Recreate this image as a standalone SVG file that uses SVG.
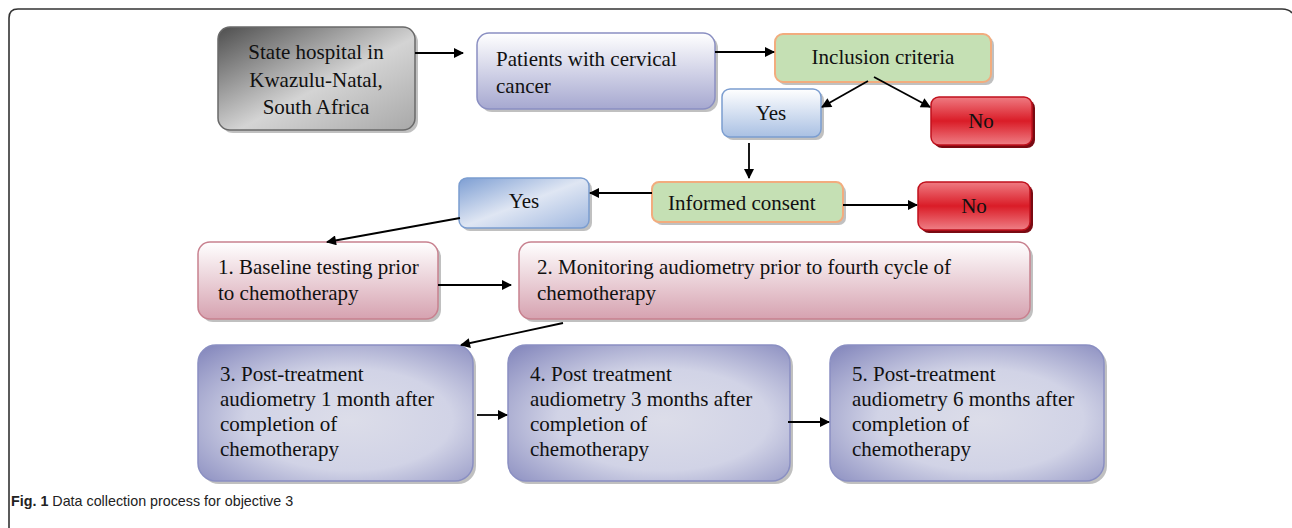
<svg xmlns="http://www.w3.org/2000/svg" width="1292" height="528" viewBox="0 0 1292 528">
<style>
.t{font-family:"Liberation Serif","Times New Roman",serif;font-size:21px;fill:#111}
.c{text-anchor:middle}
.sh{fill:#8c8c8c;opacity:.55}
.ar{stroke:#000;stroke-width:1.8;fill:none;marker-end:url(#ah)}
.cap{font-family:"Liberation Sans",Arial,sans-serif;font-size:14.3px;fill:#222}
</style>
<defs>
<marker id="ah" viewBox="0 0 10 10" refX="9" refY="5" markerWidth="11" markerHeight="10" orient="auto" markerUnits="userSpaceOnUse">
<path d="M0,0 L10,5 L0,10 z" fill="#000"/>
</marker>
<linearGradient id="gGray" x1="0" y1="0" x2="1" y2="1">
<stop offset="0" stop-color="#4e4e4e"/>
<stop offset="0.55" stop-color="#d4d4d4"/>
<stop offset="1" stop-color="#a8a8a8"/>
</linearGradient>
<linearGradient id="gLav" x1="0" y1="0" x2="0" y2="1">
<stop offset="0" stop-color="#ffffff"/>
<stop offset="1" stop-color="#a6a8d0"/>
</linearGradient>
<linearGradient id="gBlue" x1="0" y1="0" x2="0" y2="1">
<stop offset="0" stop-color="#ffffff"/>
<stop offset="1" stop-color="#a9c0e3"/>
</linearGradient>
<linearGradient id="gBlue2" x1="0" y1="0" x2="1" y2="1">
<stop offset="0" stop-color="#7d9ed3"/>
<stop offset="0.5" stop-color="#dfe6f3"/>
<stop offset="1" stop-color="#9fb7df"/>
</linearGradient>
<linearGradient id="gRed" x1="0" y1="0" x2="0" y2="1">
<stop offset="0" stop-color="#ef7b82"/>
<stop offset="0.5" stop-color="#da1c27"/>
<stop offset="1" stop-color="#ef7f86"/>
</linearGradient>
<linearGradient id="gPink" x1="0" y1="0" x2="0" y2="1">
<stop offset="0" stop-color="#ffffff"/>
<stop offset="1" stop-color="#d6a2b0"/>
</linearGradient>
<radialGradient id="gPurp" cx="0.55" cy="0.55" r="0.75">
<stop offset="0" stop-color="#dcdde9"/>
<stop offset="0.5" stop-color="#d1d3e6"/>
<stop offset="1" stop-color="#8588bd"/>
</radialGradient>
</defs>
<rect width="1292" height="528" fill="#fff"/>
<path d="M9,528 V18 Q9,9 18,9 H1282 Q1289,9 1292,13" fill="none" stroke="#333" stroke-width="1.6"/>

<g id="n-hospital">
<rect class="sh" x="221" y="30" width="197" height="103" rx="12"/>
<rect x="218" y="27" width="197" height="103" rx="12" fill="url(#gGray)" stroke="#6a6a6a" stroke-width="1.5"/>
<text class="t c" x="316" y="59">State hospital in</text>
<text class="t c" x="316" y="87">Kwazulu-Natal,</text>
<text class="t c" x="316" y="114">South Africa</text>
</g>
<g id="n-patients">
<rect class="sh" x="480" y="36" width="238" height="76" rx="12"/>
<rect x="477" y="33" width="238" height="76" rx="12" fill="url(#gLav)" stroke="#8a8fc2" stroke-width="1.5"/>
<text class="t" x="496" y="66">Patients with cervical</text>
<text class="t" x="496" y="93">cancer</text>
</g>
<g id="n-inclusion">
<rect class="sh" x="778" y="37" width="216" height="48" rx="8"/>
<rect x="775" y="34" width="216" height="48" rx="8" fill="#c5e0b4" stroke="#f2ac7e" stroke-width="2"/>
<text class="t c" x="883" y="64">Inclusion criteria</text>
</g>
<g id="n-yes1">
<rect class="sh" x="725" y="92" width="99" height="48" rx="8"/>
<rect x="722" y="89" width="99" height="48" rx="8" fill="url(#gBlue)" stroke="#7b9dd0" stroke-width="1.5"/>
<text class="t c" x="771" y="120">Yes</text>
</g>
<g id="n-no1">
<rect x="934" y="100" width="101" height="48" rx="8" fill="#7a0a12"/>
<rect x="931" y="97" width="101" height="48" rx="8" fill="url(#gRed)" stroke="#c0101c" stroke-width="1.5"/>
<text class="t c" x="981" y="128">No</text>
</g>
<g id="n-consent">
<rect class="sh" x="655" y="185" width="191" height="40" rx="7"/>
<rect x="652" y="182" width="191" height="40" rx="7" fill="#c5e0b4" stroke="#f2ac7e" stroke-width="2"/>
<text class="t" x="668" y="210">Informed consent</text>
</g>
<g id="n-yes2">
<rect class="sh" x="462" y="181" width="130" height="50" rx="8"/>
<rect x="459" y="178" width="130" height="50" rx="8" fill="url(#gBlue2)" stroke="#7b9dd0" stroke-width="1.5"/>
<text class="t c" x="524" y="208">Yes</text>
</g>
<g id="n-no2">
<rect x="921" y="185" width="112" height="48" rx="8" fill="#7a0a12"/>
<rect x="918" y="182" width="112" height="48" rx="8" fill="url(#gRed)" stroke="#c0101c" stroke-width="1.5"/>
<text class="t c" x="974" y="213">No</text>
</g>
<g id="n-step1">
<rect class="sh" x="201" y="245" width="240" height="77" rx="12"/>
<rect x="198" y="242" width="240" height="77" rx="12" fill="url(#gPink)" stroke="#c8818f" stroke-width="1.5"/>
<text class="t" x="218" y="274">1. Baseline testing prior</text>
<text class="t" x="218" y="300">to chemotherapy</text>
</g>
<g id="n-step2">
<rect class="sh" x="522" y="245" width="511" height="77" rx="12"/>
<rect x="519" y="242" width="511" height="77" rx="12" fill="url(#gPink)" stroke="#c8818f" stroke-width="1.5"/>
<text class="t" x="537" y="274">2. Monitoring audiometry prior to fourth cycle of</text>
<text class="t" x="537" y="300">chemotherapy</text>
</g>
<g id="n-step3">
<rect class="sh" x="201" y="348" width="275" height="136" rx="18"/>
<rect x="198" y="345" width="275" height="136" rx="18" fill="url(#gPurp)" stroke="#8a8fc2" stroke-width="1.5"/>
<text class="t" x="220" y="381">3. Post-treatment</text>
<text class="t" x="220" y="406">audiometry 1 month after</text>
<text class="t" x="220" y="431">completion of</text>
<text class="t" x="220" y="456">chemotherapy</text>
</g>
<g id="n-step4">
<rect class="sh" x="511" y="348" width="282" height="136" rx="18"/>
<rect x="508" y="345" width="282" height="136" rx="18" fill="url(#gPurp)" stroke="#8a8fc2" stroke-width="1.5"/>
<text class="t" x="530" y="381">4. Post treatment</text>
<text class="t" x="530" y="406">audiometry 3 months after</text>
<text class="t" x="530" y="431">completion of</text>
<text class="t" x="530" y="456">chemotherapy</text>
</g>
<g id="n-step5">
<rect class="sh" x="833" y="348" width="274" height="136" rx="18"/>
<rect x="830" y="345" width="274" height="136" rx="18" fill="url(#gPurp)" stroke="#8a8fc2" stroke-width="1.5"/>
<text class="t" x="852" y="381">5. Post-treatment</text>
<text class="t" x="852" y="406">audiometry 6 months after</text>
<text class="t" x="852" y="431">completion of</text>
<text class="t" x="852" y="456">chemotherapy</text>
</g>

<g id="connectors">
<line class="ar" x1="415" y1="53" x2="463" y2="53"/>
<line class="ar" x1="715" y1="52" x2="774" y2="52"/>
<line class="ar" x1="868" y1="81" x2="822" y2="107"/>
<line class="ar" x1="874" y1="77" x2="930" y2="107"/>
<line class="ar" x1="749" y1="143" x2="749" y2="178"/>
<line class="ar" x1="652" y1="193" x2="590" y2="193"/>
<line class="ar" x1="843" y1="205" x2="917" y2="205"/>
<line class="ar" x1="460" y1="218" x2="327" y2="242"/>
<line class="ar" x1="438" y1="285" x2="511" y2="285"/>
<line class="ar" x1="563" y1="323" x2="461" y2="345"/>
<line class="ar" x1="477" y1="415" x2="507" y2="415"/>
<line class="ar" x1="788" y1="422" x2="829" y2="422"/>
</g>
<text class="cap" x="11" y="506"><tspan font-weight="bold">Fig. 1</tspan> Data collection process for objective 3</text>
</svg>
